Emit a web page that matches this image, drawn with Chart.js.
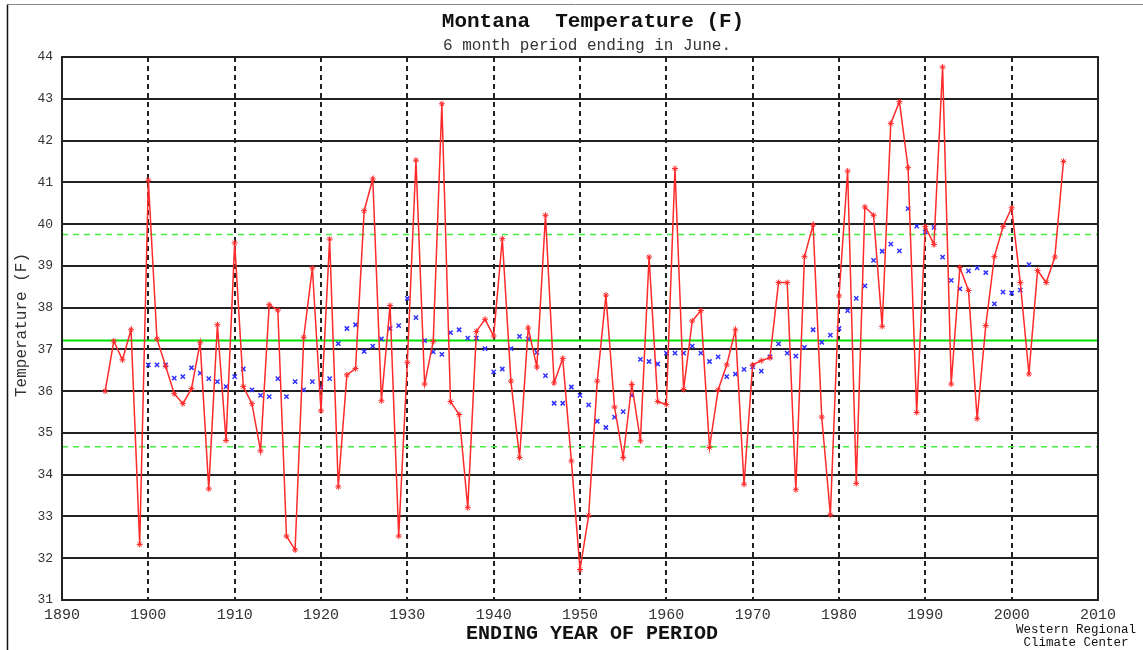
<!DOCTYPE html>
<html>
<head>
<meta charset="utf-8">
<script src="https://cdn.jsdelivr.net/npm/chart.js@4.4.0/dist/chart.umd.min.js"></script>
<style>
  html, body { margin: 0; padding: 0; background: #fff; }
  canvas { display: block; }
</style>
</head>
<body>
<canvas id="chart" width="1143" height="650"></canvas>
<script>
// yearly values, 1895-2006
const startYear = 1895;
const temps = [
  36.0, 37.2, 36.75, 37.47, 32.33,
  41.05, 37.25, 36.6, 35.94, 35.70, 36.06, 37.16, 33.66, 37.59, 34.82,
  39.55, 36.11, 35.70, 34.57, 38.07, 37.94, 32.53, 32.20, 37.29, 38.95,
  35.53, 39.64, 33.71, 36.39, 36.54, 40.32, 41.08, 35.77, 38.05, 32.53,
  36.69, 41.53, 36.17, 37.19, 42.88, 35.75, 35.44, 33.21, 37.43, 37.72,
  37.32, 39.65, 36.24, 34.41, 37.51, 36.58, 40.21, 36.20, 36.78, 34.33,
  31.73, 33.02, 36.24, 38.30, 35.62, 34.41, 36.16, 34.81, 39.21, 35.75,
  35.68, 41.33, 36.04, 37.68, 37.93, 34.65, 36.03, 36.63, 37.47, 33.77,
  36.63, 36.73, 36.80, 38.60, 38.60, 33.64, 39.22, 39.98, 35.38, 33.04,
  38.28, 41.27, 33.79, 40.41, 40.21, 37.55, 42.41, 42.93, 41.35, 35.49,
  39.94, 39.51, 43.76, 36.17, 38.96, 38.41, 35.34, 37.57, 39.22, 39.94,
  40.39, 38.60, 36.41, 38.89, 38.60, 39.21, 41.50
];

// smoothed values (blue x), 1900-2002
const avgStartYear = 1900;
const smoothed = [
  36.63, 36.63, 36.63, 36.31, 36.35, 36.56, 36.43, 36.30, 36.23, 36.11,
  36.35, 36.53, 36.03, 35.90, 35.87, 36.30, 35.87, 36.23, 36.03, 36.23,
  36.09, 36.30, 37.14, 37.50, 37.59, 36.95, 37.08, 37.25, 37.50, 37.57,
  38.22, 37.76, 37.21, 36.94, 36.88, 37.40, 37.47, 37.27, 37.27, 37.02,
  36.46, 36.53, 37.02, 37.31, 37.25, 36.93, 36.37, 35.71, 35.71, 36.10,
  35.90, 35.67, 35.28, 35.13, 35.38, 35.51, 35.90, 36.76, 36.71, 36.65,
  36.91, 36.91, 36.91, 37.08, 36.91, 36.71, 36.82, 36.35, 36.41, 36.52,
  36.58, 36.48, 36.82, 37.13, 36.91, 36.84, 37.05, 37.47, 37.17, 37.34,
  37.50, 37.93, 38.22, 38.52, 39.13, 39.35, 39.52, 39.36, 40.37, 39.95,
  39.81, 39.92, 39.21, 38.65, 38.45, 38.88, 38.95, 38.84, 38.09, 38.37,
  38.35, 38.42, 39.03
];

const meanTemp = 37.21;
const upperBand = 39.75;
const lowerBand = 34.67;

const xMin = 1890, xMax = 2010, xStep = 10;
const yMin = 31, yMax = 44, yStep = 1;

const chartTitle = 'Montana  Temperature (F)';
const chartSubtitle = '6 month period ending in June.';
const xTitle = 'ENDING YEAR OF PERIOD';
const yTitle = 'Temperature (F)';
const credit = ['Western Regional', 'Climate Center'];

const mono = '"Liberation Mono", "DejaVu Sans Mono", monospace';

function hline(v) {
  return [{ x: xMin, y: v }, { x: xMax, y: v }];
}

// frame + texts
const decorPlugin = {
  id: 'decor',
  afterDraw(chart) {
    const { ctx, chartArea: a } = chart;
    ctx.save();
    // outer frame remains (top/left)
    ctx.strokeStyle = '#888';
    ctx.lineWidth = 1;
    ctx.beginPath();
    ctx.moveTo(8, 4.5);
    ctx.lineTo(1143, 4.5);
    ctx.stroke();
    ctx.strokeStyle = '#111';
    ctx.lineWidth = 1.5;
    ctx.beginPath();
    ctx.moveTo(7.5, 4.5);
    ctx.lineTo(7.5, 650);
    ctx.stroke();

    // plot border
    ctx.strokeStyle = '#222';
    ctx.lineWidth = 2;
    ctx.strokeRect(a.left, a.top, a.right - a.left, a.bottom - a.top);

    ctx.fillStyle = '#111';
    ctx.textAlign = 'center';
    ctx.textBaseline = 'middle';
    ctx.font = 'bold 21px ' + mono;
    ctx.fillText(chartTitle, 593, 22);
    ctx.fillStyle = '#333';
    ctx.font = '16px ' + mono;
    ctx.fillText(chartSubtitle, 587, 46);

    ctx.fillStyle = '#111';
    ctx.font = 'bold 20px ' + mono;
    ctx.fillText(xTitle, 592, 634);

    ctx.font = '12.5px ' + mono;
    ctx.fillText(credit[0], 1076, 630);
    ctx.fillText(credit[1], 1076, 643);

    ctx.fillStyle = '#333';
    ctx.font = '16px ' + mono;
    ctx.translate(22, 325);
    ctx.rotate(-Math.PI / 2);
    ctx.fillText(yTitle, 0, 0);
    ctx.restore();
  }
};

const ctx = document.getElementById('chart').getContext('2d');
new Chart(ctx, {
  type: 'line',
  data: {
    datasets: [
      {
        label: 'Temperature',
        data: temps.map((t, i) => ({ x: startYear + i, y: t })),
        borderColor: '#ff2a2a',
        borderWidth: 1.5,
        pointStyle: 'star',
        pointRadius: 3,
        pointBorderColor: '#ff2a2a',
        pointBorderWidth: 1,
        tension: 0
      },
      {
        label: 'Smoothed',
        data: smoothed.map((t, i) => ({ x: avgStartYear + i, y: t })),
        showLine: false,
        pointStyle: 'crossRot',
        pointRadius: 3,
        pointBorderColor: '#3030ff',
        pointBorderWidth: 1.5
      },
      {
        label: 'Mean',
        data: hline(meanTemp),
        borderColor: '#00e000',
        borderWidth: 2,
        pointRadius: 0
      },
      {
        label: 'Upper',
        data: hline(upperBand),
        borderColor: '#44ee44',
        borderWidth: 1.5,
        borderDash: [6, 5],
        pointRadius: 0
      },
      {
        label: 'Lower',
        data: hline(lowerBand),
        borderColor: '#44ee44',
        borderWidth: 1.5,
        borderDash: [6, 5],
        pointRadius: 0
      }
    ]
  },
  options: {
    responsive: false,
    animation: false,
    devicePixelRatio: 1,
    layout: { padding: { left: 0, right: 45, top: 57, bottom: 0 } },
    scales: {
      x: {
        type: 'linear',
        min: xMin,
        max: xMax,
        afterFit: s => { s.height = 50; },
        ticks: {
          stepSize: xStep,
          callback: v => String(v),
          font: { family: mono, size: 15 },
          color: '#333',
          padding: 6,
          maxRotation: 0
        },
        grid: {
          color: c => (c.tick && (c.tick.value === xMin || c.tick.value === xMax)) ? 'rgba(0,0,0,0)' : '#222',
          lineWidth: 2,
          drawTicks: false
        },
        border: { display: false, dash: [5, 4] }
      },
      y: {
        min: yMin,
        max: yMax,
        afterFit: s => { s.width = 62; },
        ticks: {
          stepSize: yStep,
          font: { family: mono, size: 13 },
          color: '#333',
          padding: 9
        },
        grid: { color: '#222', lineWidth: 2, drawTicks: false },
        border: { display: false }
      }
    },
    plugins: {
      legend: { display: false },
      tooltip: { enabled: false }
    }
  },
  plugins: [decorPlugin]
});
</script>
</body>
</html>
